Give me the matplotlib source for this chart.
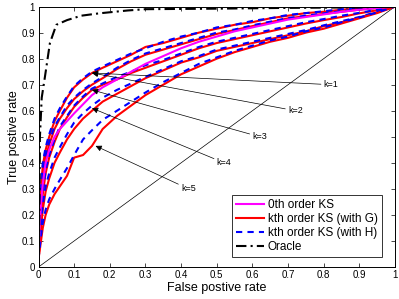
import matplotlib
matplotlib.use("Agg")
import matplotlib.pyplot as plt

plt.rcParams['font.family'] = ['Liberation Sans', 'DejaVu Sans']

# false positive rate grid shared by the ROC curves
fpr = [0, 0.003, 0.007, 0.012, 0.02, 0.03, 0.045, 0.06, 0.08, 0.1, 0.125, 0.15, 0.18, 0.22, 0.26,
       0.3, 0.35, 0.4, 0.45, 0.5, 0.55, 0.6, 0.65, 0.7, 0.75, 0.8, 0.85, 0.9, 0.95, 1.0]

tpr_0th = [0.03, 0.15, 0.24, 0.32, 0.40, 0.45, 0.50, 0.53, 0.56, 0.59, 0.625, 0.66, 0.69, 0.72, 0.75,
           0.78, 0.81, 0.84, 0.865, 0.885, 0.905, 0.92, 0.935, 0.95, 0.96, 0.97, 0.98, 0.988, 0.995, 1.0]

# kth order KS with G (red), k = 1..5
tpr_G = [
    [0.03, 0.20, 0.30, 0.39, 0.45, 0.50, 0.56, 0.60, 0.65, 0.69, 0.72, 0.745, 0.765, 0.79, 0.815,
     0.845, 0.86, 0.88, 0.9, 0.915, 0.93, 0.94, 0.955, 0.965, 0.975, 0.98, 0.988, 0.993, 0.997, 1.0],
    [0.03, 0.17, 0.27, 0.35, 0.42, 0.47, 0.53, 0.57, 0.61, 0.645, 0.675, 0.70, 0.725, 0.76, 0.79,
     0.815, 0.835, 0.855, 0.875, 0.895, 0.91, 0.925, 0.94, 0.955, 0.963, 0.972, 0.98, 0.988, 0.995, 1.0],
    [0.03, 0.12, 0.20, 0.28, 0.36, 0.42, 0.48, 0.53, 0.575, 0.615, 0.65, 0.68, 0.70, 0.72, 0.745,
     0.765, 0.79, 0.815, 0.84, 0.86, 0.875, 0.89, 0.905, 0.92, 0.935, 0.948, 0.96, 0.974, 0.986, 1.0],
    [0.03, 0.08, 0.15, 0.22, 0.29, 0.34, 0.40, 0.44, 0.49, 0.53, 0.57, 0.60, 0.635, 0.665, 0.695,
     0.725, 0.755, 0.785, 0.805, 0.83, 0.845, 0.86, 0.875, 0.89, 0.905, 0.925, 0.94, 0.958, 0.978, 1.0],
    [0.03, 0.06, 0.10, 0.15, 0.20, 0.24, 0.28, 0.31, 0.35, 0.42, 0.43, 0.465, 0.53, 0.58, 0.62,
     0.66, 0.70, 0.74, 0.77, 0.80, 0.825, 0.845, 0.865, 0.88, 0.9, 0.915, 0.935, 0.955, 0.975, 1.0],
]

# kth order KS with H (blue dashed), k = 1..5
tpr_H = [
    [0.03, 0.21, 0.31, 0.40, 0.46, 0.51, 0.57, 0.61, 0.655, 0.695, 0.725, 0.75, 0.77, 0.795, 0.82,
     0.84, 0.865, 0.885, 0.9, 0.92, 0.93, 0.945, 0.955, 0.968, 0.975, 0.982, 0.99, 0.994, 0.997, 1.0],
    [0.03, 0.18, 0.28, 0.36, 0.43, 0.48, 0.54, 0.575, 0.62, 0.65, 0.68, 0.705, 0.73, 0.765, 0.795,
     0.82, 0.84, 0.86, 0.88, 0.9, 0.912, 0.928, 0.942, 0.956, 0.965, 0.974, 0.982, 0.99, 0.995, 1.0],
    [0.03, 0.13, 0.21, 0.29, 0.37, 0.43, 0.49, 0.54, 0.58, 0.62, 0.655, 0.685, 0.705, 0.73, 0.75,
     0.775, 0.795, 0.82, 0.845, 0.865, 0.88, 0.895, 0.91, 0.925, 0.94, 0.952, 0.965, 0.976, 0.988, 1.0],
    [0.03, 0.09, 0.17, 0.24, 0.31, 0.36, 0.42, 0.46, 0.51, 0.555, 0.59, 0.62, 0.65, 0.68, 0.705,
     0.73, 0.76, 0.79, 0.81, 0.835, 0.85, 0.865, 0.88, 0.895, 0.91, 0.928, 0.944, 0.96, 0.98, 1.0],
    [0.03, 0.07, 0.12, 0.17, 0.22, 0.26, 0.30, 0.335, 0.38, 0.43, 0.49, 0.525, 0.565, 0.60, 0.635,
     0.67, 0.71, 0.745, 0.78, 0.805, 0.83, 0.85, 0.87, 0.885, 0.905, 0.92, 0.94, 0.958, 0.978, 1.0],
]

oracle_fpr = [0, 0.002, 0.003, 0.004, 0.009, 0.018, 0.032, 0.05, 0.08, 0.12, 0.17, 0.25, 0.3, 0.5, 0.7, 0.9, 1.0]
oracle_tpr = [0, 0.15, 0.3, 0.5, 0.65, 0.73, 0.86, 0.93, 0.948, 0.965, 0.974, 0.985, 0.99, 0.992, 0.995, 0.997, 1.0]

k_labels = ['k=1', 'k=2', 'k=3', 'k=4', 'k=5']
arrow_tip = [(0.15, 0.745), (0.15, 0.745), (0.15, 0.68), (0.15, 0.61), (0.16, 0.465)]
label_pos = [(0.8, 0.70), (0.7, 0.60), (0.6, 0.50), (0.5, 0.40), (0.4, 0.30)]

fig = plt.figure(figsize=(3.99, 2.99), dpi=100)
ax = fig.add_axes([0.0965, 0.107, 0.8935, 0.871])

ax.plot([0, 1], [0, 1], color='k', lw=0.5)

for i in range(5):
    ax.plot(fpr, tpr_G[i], color='red', lw=1.5)
    ax.plot(fpr, tpr_H[i], color='blue', lw=1.5, ls=(0, (3, 2.5)))
ax.plot(fpr, tpr_0th, color='magenta', lw=1.5)
ax.plot(oracle_fpr, oracle_tpr, color='k', lw=1.5, ls=(0, (5, 2, 1, 2)))

for lab, tip, pos in zip(k_labels, arrow_tip, label_pos):
    ax.annotate(lab, xy=tip, xytext=pos, fontsize=6.5, ha='left', va='center',
                arrowprops=dict(arrowstyle='-|>', color='k', lw=0.5, mutation_scale=9,
                                shrinkA=0, shrinkB=0))

# legend proxies
ax.plot([], [], color='magenta', lw=1.5, label='0th order KS')
ax.plot([], [], color='red', lw=1.5, label='kth order KS (with G)')
ax.plot([], [], color='blue', lw=1.5, ls=(0, (3, 2.5)), label='kth order KS (with H)')
ax.plot([], [], color='k', lw=1.5, ls=(0, (5, 2, 1, 2)), label='Oracle')
leg = ax.legend(loc='lower right', fontsize=8.5, frameon=True, fancybox=False,
                edgecolor='k', handlelength=2.4, borderpad=0.35, labelspacing=0.17,
                handletextpad=0.3, borderaxespad=0, bbox_to_anchor=(0.963, 0.038))
leg.get_frame().set_linewidth(0.7)

ax.set_xlim(0, 1)
ax.set_ylim(0, 1)
ticks = [0, 0.1, 0.2, 0.3, 0.4, 0.5, 0.6, 0.7, 0.8, 0.9, 1]
ticklabs = ['0', '0.1', '0.2', '0.3', '0.4', '0.5', '0.6', '0.7', '0.8', '0.9', '1']
ax.set_xticks(ticks)
ax.set_xticklabels(ticklabs)
ax.set_yticks(ticks)
ax.set_yticklabels(ticklabs)
ax.tick_params(direction='in', length=3, width=0.5, labelsize=7, top=True, right=True, pad=2.5)
for s in ax.spines.values():
    s.set_linewidth(0.7)
ax.set_xlabel('False postive rate', fontsize=9, labelpad=1)
ax.set_ylabel('True postive rate', fontsize=9, labelpad=1)

fig.savefig('out.png', dpi=100)
